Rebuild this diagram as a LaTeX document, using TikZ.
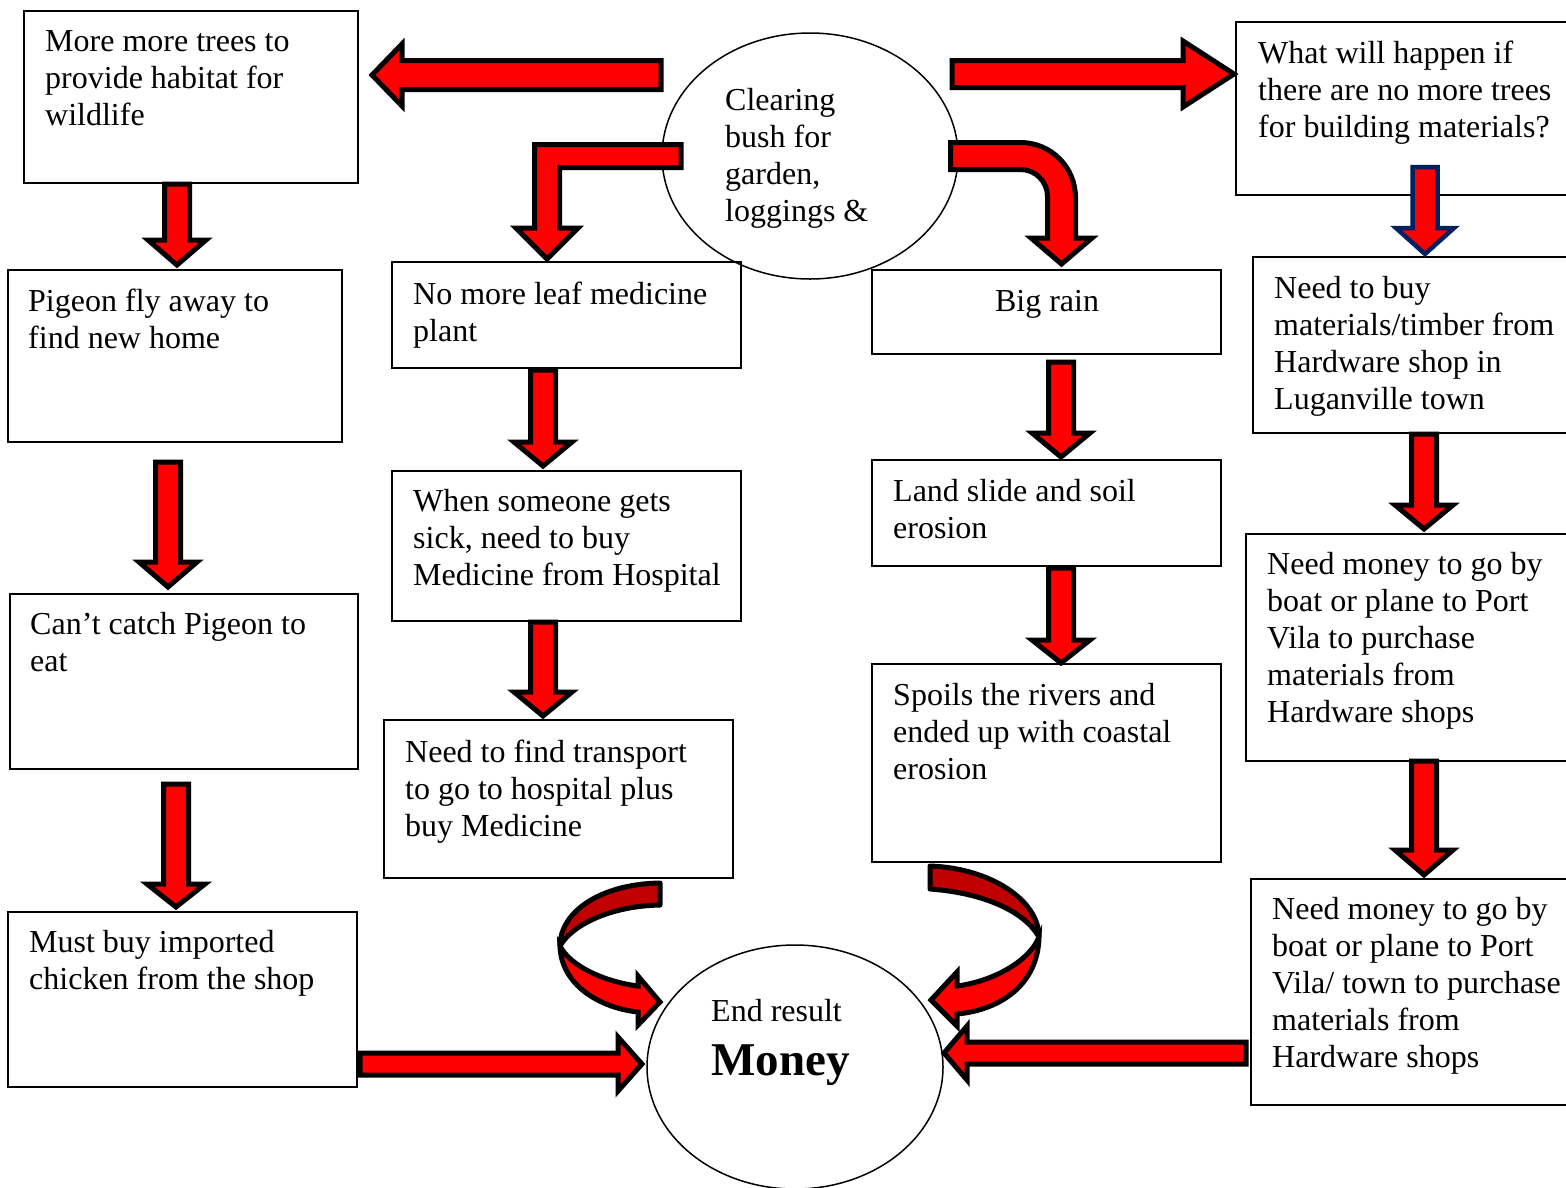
\documentclass[tikz,border=0pt]{standalone}
\usepackage{fontspec}
\setmainfont{Liberation Serif}
\begin{document}
\begin{tikzpicture}[x=1pt,y=-1pt,
  box/.style={draw=black,line width=1.5pt},
  txt/.style={anchor=north west,align=left,inner sep=0pt,font=\fontsize{32}{37}\selectfont},
  blockarrow/.style={draw=black,line width=5pt,line join=miter,fill=red},
  navyarrow/.style={draw=navy,line width=4.5pt,line join=miter,fill=red},
  backband/.style={draw=black,line width=5pt,line join=round,fill=darkred},
  frontband/.style={draw=black,line width=5pt,line join=miter,fill=red}]
\definecolor{navy}{HTML}{002060}
\definecolor{darkred}{HTML}{C00000}
\useasboundingbox (0,0) rectangle (1566,1187);
\clip (0,0) rectangle (1566,1187);
\fill[white] (0,0) rectangle (1566,1187);
\newcommand{\dnarr}[4]{%
  \draw[blockarrow] (#1-12.5,#2) -- (#1+12.5,#2) -- (#1+12.5,#3) -- (#1+29,#3) -- (#1,#4) -- (#1-29,#3) -- (#1-12.5,#3) -- cycle;}
% boxes
\draw[box] (24,11) rectangle (358,183);
\draw[box] (8,270) rectangle (342,442);
\draw[box] (10,594) rectangle (358,769);
\draw[box] (8,912) rectangle (357,1087);
\draw[box] (392,262) rectangle (741,368);
\draw[box] (392,471) rectangle (741,621);
\draw[box] (384,720) rectangle (733,878);
\draw[box] (872,270) rectangle (1221,354);
\draw[box] (872,460) rectangle (1221,566);
\draw[box] (872,664) rectangle (1221,862);
\draw[box] (1236,22) rectangle (1580,195);
\draw[box] (1253,257) rectangle (1580,433);
\draw[box] (1246,534) rectangle (1580,761);
\draw[box] (1251,879) rectangle (1580,1105);
\draw[box] (810,156) ellipse [x radius=148,y radius=123];
\draw[box] (795,1067) ellipse [x radius=148,y radius=122];
% texts
\node[txt] (t1) at (45,30) {More more trees to\\provide habitat for\\wildlife};
\node[txt] (t2) at (28,289) {Pigeon fly away to\\find new home};
\node[txt] (t3) at (30,612.5) {Can’t catch Pigeon to\\eat};
\node[txt] (t4) at (29,930.5) {Must buy imported\\chicken from the shop};
\node[txt] (t5) at (413,281.5) {No more leaf medicine\\plant};
\node[txt] (t6) at (413,489.5) {When someone gets\\sick, need to buy\\Medicine from Hospital};
\node[txt] (t7) at (405,739.5) {Need to find transport\\to go to hospital plus\\buy Medicine};
\node[txt] (tc) at (725,88.5) {Clearing\\bush for\\garden,\\loggings \&};
\node[txt,anchor=north] (t8) at (1047,290.5) {Big rain};
\node[txt] (t9) at (893,479.5) {Land slide and soil\\erosion};
\node[txt] (t10) at (893,683.5) {Spoils the rivers and\\ended up with coastal\\erosion};
\node[txt] (t11) at (1258,40.5) {What will happen if\\there are no more trees\\for building materials?};
\node[txt] (t12) at (1274,276.5) {Need to buy\\materials/timber from\\Hardware shop in\\Luganville town};
\node[txt] (t13) at (1267,552.5) {Need money to go by\\boat or plane to Port\\Vila to purchase\\materials from\\Hardware shops};
\node[txt] (t14) at (1272,897.5) {Need money to go by\\boat or plane to Port\\Vila/ town to purchase\\materials from\\Hardware shops};
\node[txt] (te) at (711,999.5) {End result};
\node[anchor=base west,inner sep=0pt,font=\fontsize{47}{50}\selectfont\bfseries] (tm) at (711,1075) {Money};
% straight down arrows
\dnarr{177}{184}{240}{265}
\dnarr{168}{462}{562}{587}
\dnarr{176}{784}{884}{907}
\dnarr{543}{370}{442}{466}
\dnarr{543}{622}{692}{716}
\dnarr{1061}{362}{433}{457}
\dnarr{1061}{568}{640}{663}
\dnarr{1424}{434}{505}{529}
\dnarr{1424}{761}{850}{875}
\draw[navyarrow] (1412.5,167) -- (1437.5,167) -- (1437.5,228) -- (1454,228) -- (1425,254) -- (1396,228) -- (1412.5,228) -- cycle;
% top horizontal arrows
\draw[blockarrow] (661,60.5) -- (402,60.5) -- (402,44) -- (372,75) -- (402,106) -- (402,89.5) -- (661,89.5) -- cycle;
\draw[blockarrow] (952,60.5) -- (1183,60.5) -- (1183,41) -- (1234,74) -- (1183,107) -- (1183,87.5) -- (952,87.5) -- cycle;
% L arrow
\draw[blockarrow] (681,144.5) -- (534.5,144.5) -- (534.5,228) -- (516,228) -- (547,259) -- (578,228) -- (559.5,228) -- (559.5,167.5) -- (681,167.5) -- cycle;
% rounded arrow
\draw[blockarrow] (950.5,142.5) -- (1020.5,142.5) .. controls (1050.9,142.5) and (1075.5,167.1) .. (1075.5,197.5) -- (1075.5,238) -- (1092,238) -- (1061.5,264) -- (1031,238) -- (1047.5,238) -- (1047.5,196.5) .. controls (1047.5,181.6) and (1035.4,169.5) .. (1020.5,169.5) -- (950.5,169.5) -- cycle;
% bottom horizontal arrows
\draw[blockarrow] (360,1053) -- (618,1053) -- (618,1037) -- (642,1064) -- (618,1091) -- (618,1075) -- (360,1075) -- cycle;
\draw[blockarrow] (1246,1042) -- (967,1042) -- (967,1026) -- (944,1053) -- (967,1080) -- (967,1064) -- (1246,1064) -- cycle;
% curved arrows into Money
\draw[backband] (660,883) .. controls (600,884) and (560,912) .. (560,946) .. controls (572,925) and (610,906) .. (660,905) -- cycle;
\draw[frontband] (560,946) .. controls (561,985) and (600,1008) .. (638,1012) -- (638,1025) -- (660,1002) -- (638,976) -- (638,986) .. controls (605,982) and (570,966) .. (560,946) -- cycle;
\draw[backband] (930,866) .. controls (990,868) and (1039,900) .. (1039,937) .. controls (1025,912) and (985,893) .. (930,889) -- cycle;
\draw[frontband] (1039,937) .. controls (1038,985) and (1000,1010) .. (957,1014) -- (957,1026) -- (931,1000) -- (957,972) -- (957,986) .. controls (995,981) and (1030,960) .. (1039,937) -- cycle;
\end{tikzpicture}
\end{document}
